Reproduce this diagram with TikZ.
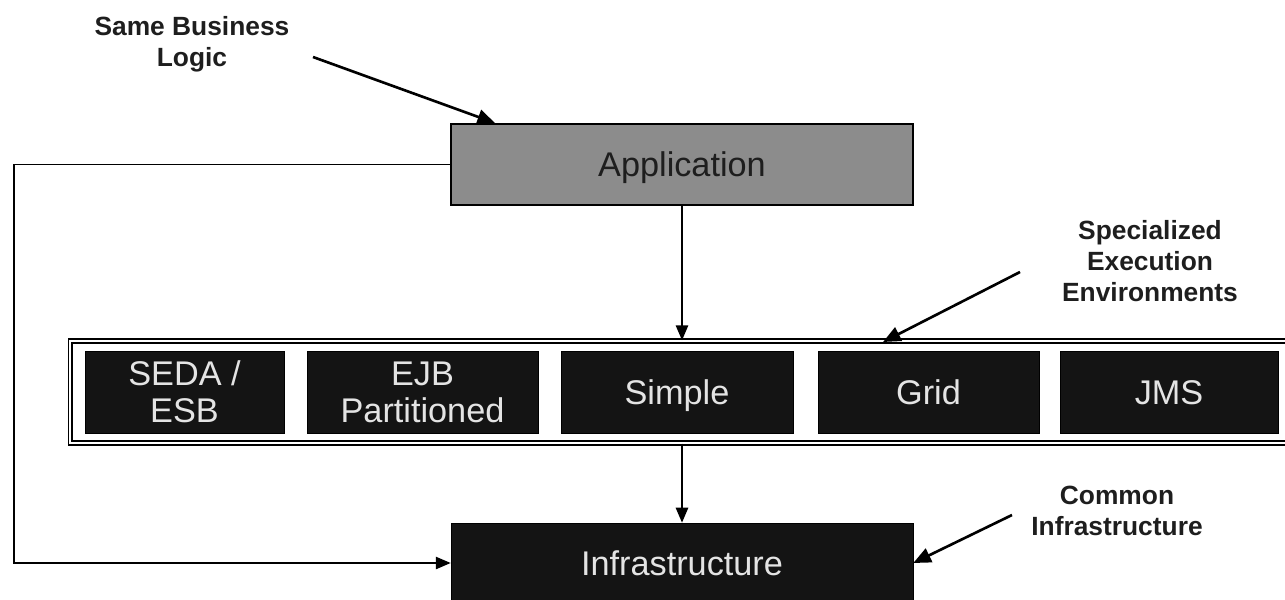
\documentclass[tikz,border=0pt]{standalone}
\usepackage{fontspec}
\setmainfont{Liberation Sans}
\usetikzlibrary{arrows.meta}
\definecolor{appgray}{HTML}{8C8C8C}
\definecolor{boxblack}{HTML}{141414}
\definecolor{boxtext}{HTML}{E4E4E4}
\definecolor{notegray}{HTML}{1E1E1E}
\begin{document}
\begin{tikzpicture}[x = 0.02cm, y = -0.02cm,
		envbox/.style = {draw = black, fill = boxblack, text = boxtext, minimum height = 1.64cm, inner sep = 0pt, align = center, font = \fontsize{19.5}{21}\selectfont},
		oneline/.style = {text height = 14pt, text depth = 0pt},
		note/.style = {align = center, text = notegray, font = \bfseries\fontsize{15}{17.5}\selectfont},
		link/.style = {-{Triangle[length = 8.5pt, width = 7pt]}, line width = 1pt},
		pointer/.style = {-{Triangle[length = 10pt, width = 8.5pt]}, line width = 1.5pt}]
		\useasboundingbox (0, 0) rectangle (1285, 599);
		%%%%%%%%%%%%%
		\node [draw = black, line width = 1pt, fill = appgray, text = notegray, oneline, minimum width = 9.24cm, minimum height = 1.62cm, font = \fontsize{19.5}{21}\selectfont] (app) at (682, 164.5) {Application};
		\node [draw = black, line width = 0.8pt, double, double distance = 1.3pt, minimum width = 24.6cm, minimum height = 2.04cm, inner sep = 0pt] (envs) at (685, 392) {};
		\node [envbox, minimum width = 3.98cm] (seda) at (184.5, 392) {SEDA /\\ESB};
		\node [envbox, minimum width = 4.62cm] (ejb) at (422.5, 392) {EJB\\Partitioned};
		\node [envbox, oneline, minimum width = 4.64cm] (simple) at (677, 392) {Simple};
		\node [envbox, oneline, minimum width = 4.42cm] (grid) at (928.5, 392) {Grid};
		\node [envbox, oneline, minimum width = 4.36cm] (jms) at (1169, 392) {JMS};
		\node [envbox, oneline, minimum width = 9.24cm, minimum height = 1.6cm] (infra) at (682, 563) {Infrastructure};
		%%%%%%%%%%%%%
		\node [note] (samebiz) at (192, 44) {Same Business\\Logic};
		\node [note] (special) at (1150, 261) {Specialized\\Execution\\Environments};
		\node [note] (common) at (1117, 511) {Common\\Infrastructure};
		\coordinate (loopx) at (14, 0);
		\coordinate (biztail) at (313, 57);
		\coordinate (bizhead) at (495, 123);
		\coordinate (spectail) at (1020, 272);
		\coordinate (spechead) at (883, 342);
		\coordinate (comtail) at (1012, 515);
		%%%%%%%%%%%%%
		\draw [link] (app.south) to (app.south |- envs.north);
		\draw [link] (infra.north |- envs.south) to (infra.north);
		\draw [link] (app.west) -- (app.west -| loopx) |- (infra.west);
		\draw [pointer] (biztail) to (bizhead);
		\draw [pointer] (spectail) to (spechead);
		\draw [pointer] (comtail) to (infra.east);
\end{tikzpicture}
\end{document}
